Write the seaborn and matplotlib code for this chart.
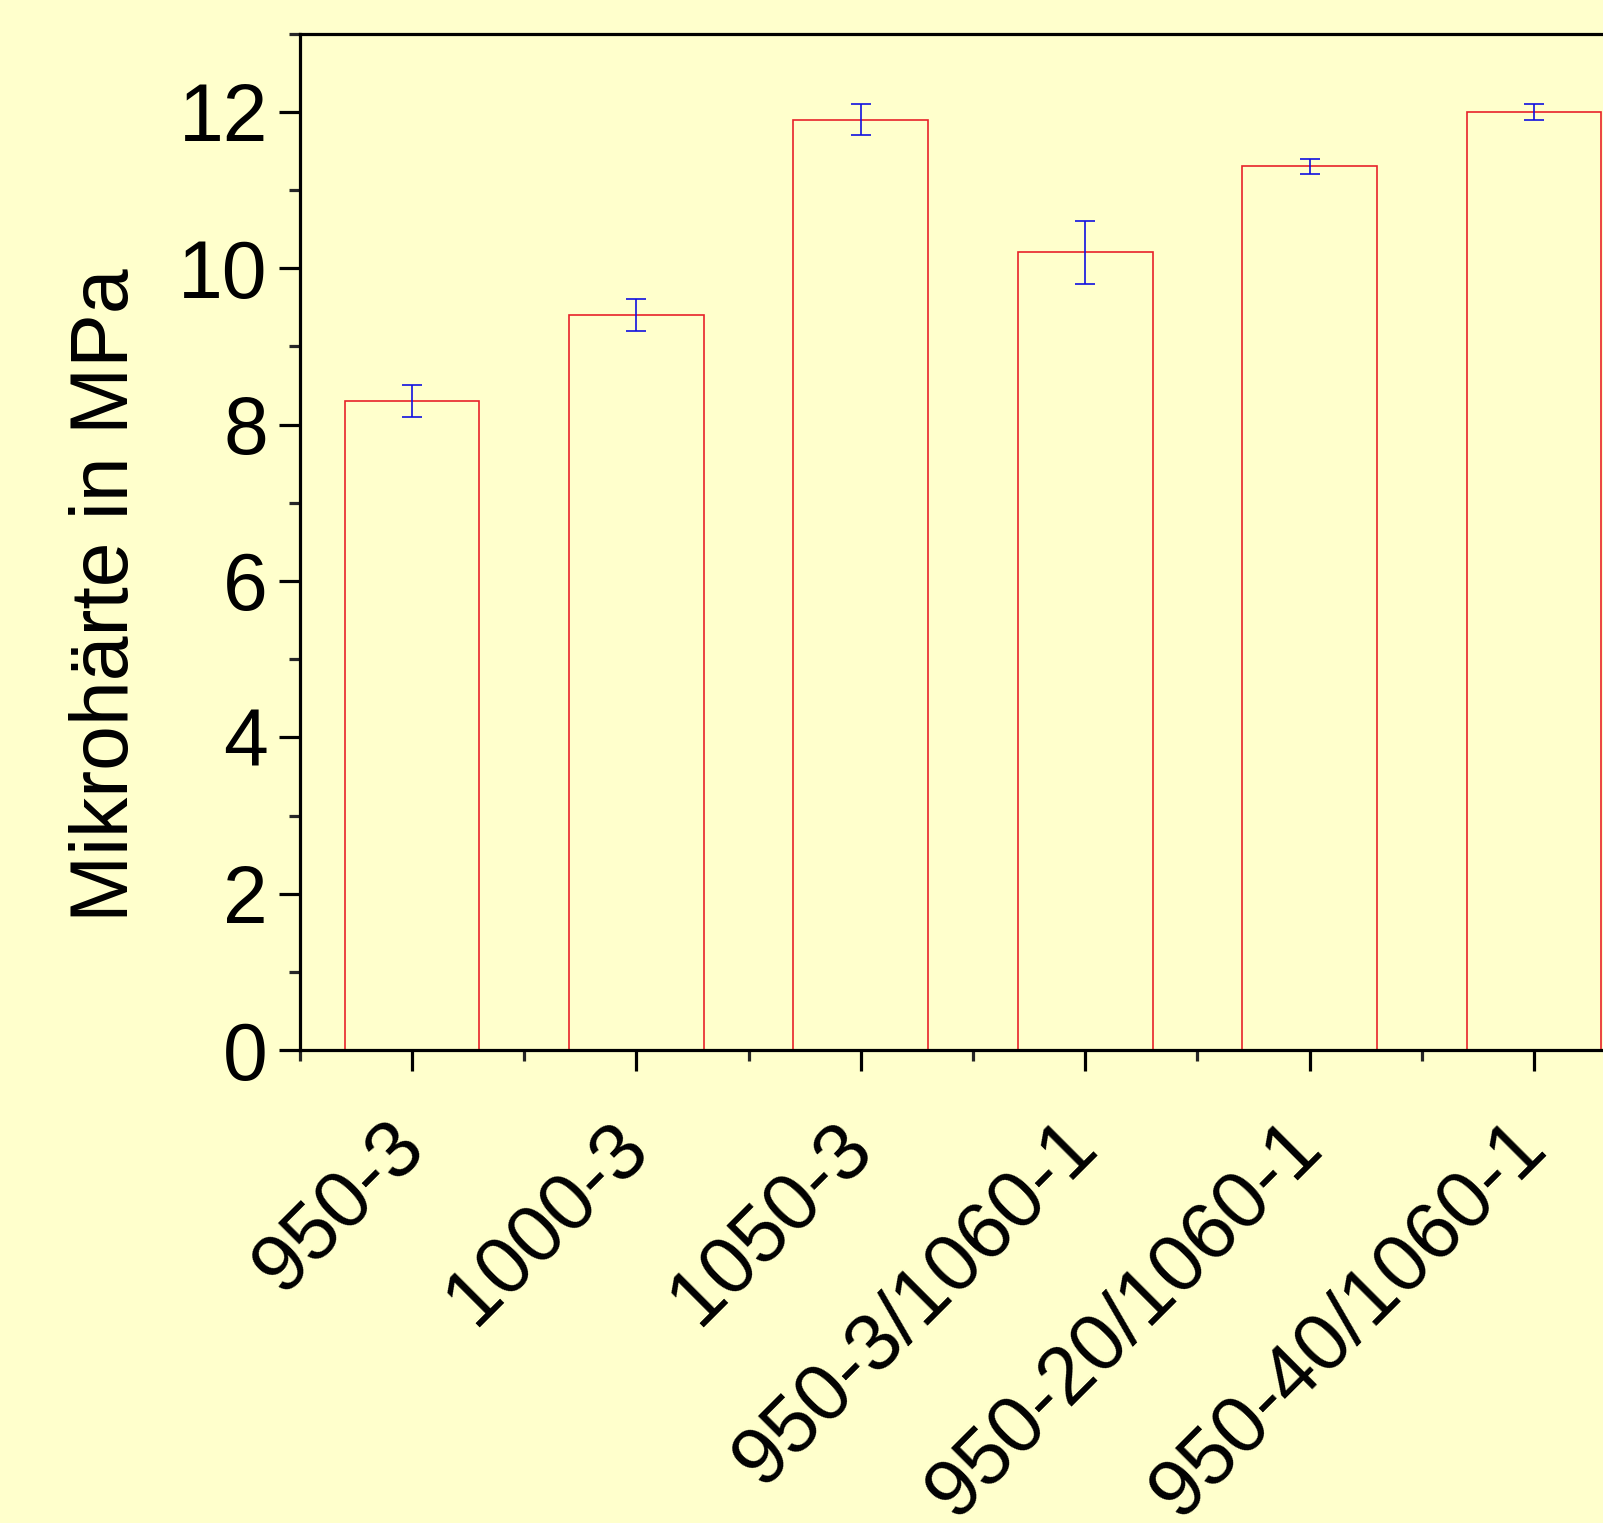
import matplotlib
matplotlib.use("Agg")
import matplotlib.pyplot as plt
import numpy as np
import seaborn as sns
from matplotlib.ticker import FixedLocator, MultipleLocator

# data
samples = ["950-3", "1000-3", "1050-3", "950-3/1060-1", "950-20/1060-1", "950-40/1060-1"]
hardness = [8.3, 9.4, 11.9, 10.2, 11.3, 12.0]
hardness_err = [0.2, 0.2, 0.2, 0.4, 0.1, 0.1]

bg = "#FFFFCC"
sns.set_style("ticks")
plt.rcParams["font.family"] = ["Liberation Sans", "DejaVu Sans"]

fig = plt.figure(figsize=(16.03, 15.23), dpi=100, facecolor=bg)
# axes runs past the right edge like the original export
ax = fig.add_axes([0.187, 0.3105, 0.840, 0.6675])
ax.set_facecolor(bg)

sns.barplot(x=samples, y=hardness, ax=ax, fill=False, color="#E8222A",
            width=0.6, linewidth=1.2)
ax.errorbar(np.arange(len(samples)), hardness, yerr=hardness_err, fmt="none",
            ecolor="#1010E0", elinewidth=1.2, capsize=7.5, capthick=1.2)

ax.set_xlim(-0.5, 5.5)
ax.set_ylim(0, 13)
ax.yaxis.set_major_locator(MultipleLocator(2))
ax.yaxis.set_minor_locator(MultipleLocator(1))
ax.xaxis.set_minor_locator(FixedLocator(np.arange(-0.5, 6, 1.0)))

for side in ["left", "bottom", "top"]:
    ax.spines[side].set_linewidth(2.3)
    ax.spines[side].set_color("black")
ax.spines["right"].set_visible(False)

ax.tick_params(which="major", direction="out", length=15, width=2.3,
               labelsize=58, pad=8, colors="black")
ax.tick_params(which="minor", direction="out", length=8, width=2.3)
ax.tick_params(axis="x", which="major", pad=46)
ax.tick_params(top=False, right=False, which="both")

ax.set_xticks(range(len(samples)))
ax.set_xticklabels(samples, rotation=45, ha="right", va="center",
                   rotation_mode="anchor")
ax.set_xlabel("")
ax.set_ylabel("Mikrohärte in MPa", fontsize=58, color="black")
ax.yaxis.set_label_coords(-0.115, 0.447)

fig.savefig("out.png", dpi=100, facecolor=bg)
